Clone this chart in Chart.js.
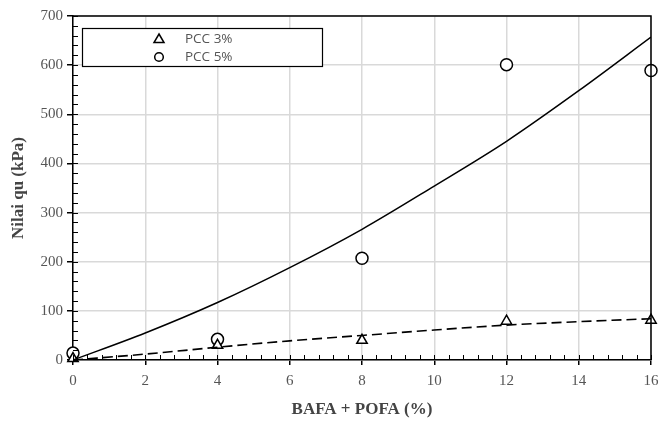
<!DOCTYPE html>
<html>
<head>
<meta charset="utf-8">
<script src="https://cdn.jsdelivr.net/npm/chart.js@4.4.1/dist/chart.umd.min.js"></script>
<style>
  html, body { margin: 0; padding: 0; background: #fff; }
  #wrap { width: 659px; height: 424px; }
</style>
</head>
<body>
<div id="wrap"><canvas id="c"></canvas></div>
<script>
// measured points
const xVals = [0, 4, 8, 12, 16];
const pcc3 = [3, 30, 40, 79, 81];
const pcc5 = [14, 42, 207, 601, 589];

// trend lines
const trendX = [0, 2, 4, 6, 8, 10, 12, 14, 16];
const trend5 = [0, 55, 117, 188, 266, 354, 445, 548, 657];
const trend3 = [0, 12, 26, 39, 50, 61, 71, 78, 84];

const xTicks = [0, 2, 4, 6, 8, 10, 12, 14, 16];
const yTicks = [0, 100, 200, 300, 400, 500, 600, 700];

const serif = "'Liberation Serif', 'DejaVu Serif', serif";

const pairs = (xs, ys) => xs.map((x, i) => ({ x: x, y: ys[i] }));

// minor ticks, frame and legend box
const extras = {
  id: 'extras',
  afterDatasetsDraw(chart) {
    const ctx = chart.ctx;
    const a = chart.chartArea;
    const xs = chart.scales.x, ys = chart.scales.y;
    ctx.save();
    ctx.strokeStyle = '#000';
    ctx.lineWidth = 1;
    ctx.beginPath();
    for (let v = 0; v <= 16.001; v += 0.4) {
      const px = Math.round(xs.getPixelForValue(v)) + 0.5;
      ctx.moveTo(px, a.bottom);
      ctx.lineTo(px, a.bottom - 5);
    }
    for (let v = 0; v <= 700; v += 20) {
      const py = Math.round(ys.getPixelForValue(v)) + 0.5;
      ctx.moveTo(a.left, py);
      ctx.lineTo(a.left + 5, py);
    }
    ctx.stroke();
    ctx.lineWidth = 1.5;
    ctx.beginPath();
    ctx.moveTo(a.left, a.top);
    ctx.lineTo(a.right, a.top);
    ctx.lineTo(a.right, a.bottom);
    ctx.stroke();
    ctx.restore();
  },
  afterDraw(chart) {
    const ctx = chart.ctx;
    ctx.save();
    ctx.fillStyle = '#fff';
    ctx.fillRect(82, 28, 240, 38);
    ctx.strokeStyle = '#000';
    ctx.lineWidth = 1.2;
    ctx.strokeRect(82.5, 28.5, 240, 38);
    ctx.lineWidth = 1.5;
    // triangle
    ctx.beginPath();
    ctx.moveTo(159, 34);
    ctx.lineTo(164, 42.5);
    ctx.lineTo(154, 42.5);
    ctx.closePath();
    ctx.stroke();
    // circle
    ctx.beginPath();
    ctx.arc(159, 57, 4.3, 0, Math.PI * 2);
    ctx.stroke();
    ctx.fillStyle = '#555';
    ctx.font = "13.5px 'Open Sans', 'Noto Sans', sans-serif";
    ctx.textBaseline = 'middle';
    ctx.fillText('PCC 3%', 185, 39);
    ctx.fillText('PCC 5%', 185, 57);
    ctx.restore();
  }
};

new Chart(document.getElementById('c'), {
  type: 'scatter',
  data: {
    datasets: [
      {
        label: 'trend 5%',
        type: 'line',
        data: pairs(trendX, trend5),
        borderColor: '#000',
        borderWidth: 1.5,
        pointRadius: 0,
        cubicInterpolationMode: 'monotone',
        fill: false
      },
      {
        label: 'trend 3%',
        type: 'line',
        data: pairs(trendX, trend3),
        borderColor: '#000',
        borderWidth: 1.6,
        borderDash: [10, 5],
        pointRadius: 0,
        cubicInterpolationMode: 'monotone',
        fill: false
      },
      {
        label: 'PCC 3%',
        data: pairs(xVals, pcc3),
        pointStyle: 'triangle',
        pointRadius: 6,
        pointBorderWidth: 1.5,
        pointBorderColor: '#000',
        pointBackgroundColor: '#fff',
        clip: false
      },
      {
        label: 'PCC 5%',
        data: pairs(xVals, pcc5),
        pointStyle: 'circle',
        pointRadius: 6,
        pointBorderWidth: 1.5,
        pointBorderColor: '#000',
        pointBackgroundColor: '#fff',
        clip: false
      }
    ]
  },
  options: {
    responsive: true,
    maintainAspectRatio: false,
    animation: false,
    layout: { padding: { top: 16, right: 8, left: 4, bottom: 0 } },
    plugins: { legend: { display: false }, tooltip: { enabled: false } },
    scales: {
      x: {
        type: 'linear',
        min: 0, max: 16,
        afterBuildTicks: (s) => { s.ticks = xTicks.map(v => ({ value: v })); },
        afterFit: (s) => { s.height = 64; s.paddingLeft = 0; s.paddingRight = 0; },
        grid: { color: '#d9d9d9', lineWidth: 1.5, tickLength: 5, tickColor: '#000' },
        border: { color: '#000', width: 1.5 },
        ticks: { color: '#555', font: { family: serif, size: 15 }, padding: 7 },
        title: {
          display: true, text: 'BAFA + POFA (%)', color: '#444',
          font: { family: serif, size: 17, weight: 'bold' }, padding: { top: 13 }
        }
      },
      y: {
        min: 0, max: 700,
        afterBuildTicks: (s) => { s.ticks = yTicks.map(v => ({ value: v })); },
        afterFit: (s) => { s.width = 69; s.paddingTop = 0; s.paddingBottom = 0; },
        grid: { color: '#d9d9d9', lineWidth: 1.5, tickLength: 6, tickColor: '#000' },
        border: { color: '#000', width: 1.5 },
        ticks: { color: '#555', font: { family: serif, size: 15 }, padding: 4 },
        title: {
          display: true, text: 'Nilai qu (kPa)', color: '#444',
          font: { family: serif, size: 17, weight: 'bold' }, padding: { bottom: 2 }
        }
      }
    }
  },
  plugins: [extras]
});
</script>
</body>
</html>
